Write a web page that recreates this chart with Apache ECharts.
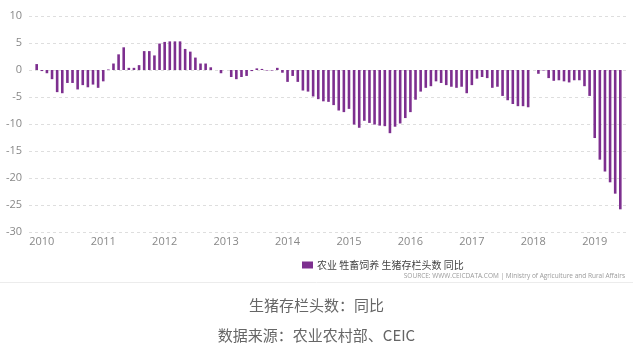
<!DOCTYPE html>
<html><head><meta charset="utf-8">
<script src="https://cdn.jsdelivr.net/npm/echarts@6/dist/echarts.min.js"></script>
<style>html,body{margin:0;padding:0;background:#fff}#c{width:633px;height:360px}</style>
</head><body><div id="c"></div>
<script>
// Year-on-year change (%) of live hog inventory, monthly
const y2009 = [null, 1.1];                      // Nov, Dec
const y2010 = [-0.2, -0.6, -1.7, -4.1, -4.3, -2.4, -2.4, -3.6, -2.8, -3.2, -2.7, -3.3];
const y2011 = [-2.1, 0.1, 1.2, 2.9, 4.2, 0.4, 0.4, 0.9, 3.5, 3.5, 2.7, 4.9];
const y2012 = [5.2, 5.3, 5.3, 5.3, 3.9, 3.4, 2.3, 1.2, 1.2, 0.5, null, -0.6];
const y2013 = [null, -1.3, -1.7, -1.3, -1.1, -0.2, 0.3, 0.2, -0.1, -0.1, 0.4, -0.5];
const y2014 = [-2.2, -1.1, -2.2, -3.8, -4.0, -4.9, -5.4, -5.8, -5.9, -6.5, -7.5, -7.8];
const y2015 = [-7.2, -10.1, -10.7, -9.4, -9.8, -10.1, -10.3, -10.4, -11.7, -10.5, -9.9, -8.9];
const y2016 = [-7.8, -5.5, -4.0, -3.3, -3.0, -2.1, -2.4, -2.8, -3.1, -3.3, -3.1, -4.3];
const y2017 = [-2.8, -1.6, -1.3, -1.5, -3.3, -3.1, -4.8, -5.6, -6.3, -6.7, -6.7, -6.9];
const y2018 = [null, -0.7, -0.1, -1.5, -2.0, -1.9, -2.1, -2.3, -1.9, -1.9, -3.0, -4.8];
const y2019 = [-12.6, -16.6, -18.8, -20.8, -22.9, -25.8, null]; // Jan..Jul
const yearBlocks = [[2009, 11, y2009], [2010, 1, y2010], [2011, 1, y2011], [2012, 1, y2012],
  [2013, 1, y2013], [2014, 1, y2014], [2015, 1, y2015], [2016, 1, y2016], [2017, 1, y2017],
  [2018, 1, y2018], [2019, 1, y2019]];
const seriesName = '农业 牲畜饲养 生猪存栏头数 同比';
const yTicks = { min: -30, max: 10, step: 5 };
const sourceText = 'SOURCE: WWW.CEICDATA.COM | Ministry of Agriculture and Rural Affairs';
const caption1 = '生猪存栏头数：同比';
const caption2 = '数据来源：农业农村部、CEIC';

const categories = [];
const values = [];
yearBlocks.forEach(([yr, m0, arr]) => {
  arr.forEach((v, k) => {
    const m = m0 + k;
    categories.push(yr + '-' + (m < 10 ? '0' + m : m));
    values.push(v);
  });
});

const chart = echarts.init(document.getElementById('c'), null, { renderer: 'canvas' });
const fontLatin = "'Open Sans', 'Noto Sans', sans-serif";
const fontCJK = "'Noto Sans CJK SC', 'Noto Sans', sans-serif";
chart.setOption({
  backgroundColor: '#fff',
  animation: false,
  grid: { left: 29, right: 5, top: 16, bottom: 128 },
  legend: {
    data: [seriesName], left: 297, top: 255, icon: 'rect', itemWidth: 11, itemHeight: 7,
    itemGap: 4,
    textStyle: { fontSize: 10, color: '#444', fontFamily: fontCJK, padding: [0, 0, 0, -1] }
  },
  xAxis: {
    type: 'category', data: categories, boundaryGap: true,
    axisLine: { show: false }, axisTick: { show: false }, splitLine: { show: false },
    axisLabel: {
      interval: (i, v) => v.slice(5) === '01',
      formatter: v => v.slice(0, 4),
      color: '#888', fontSize: 11, fontFamily: fontLatin, margin: 4
    }
  },
  yAxis: {
    type: 'value', min: yTicks.min, max: yTicks.max, interval: yTicks.step,
    axisLine: { show: false }, axisTick: { show: false },
    axisLabel: { color: '#888', fontSize: 11, fontFamily: fontLatin, margin: 7 },
    splitLine: { lineStyle: { color: '#dedede', type: [3, 3], width: 1 } }
  },
  series: [{
    name: seriesName, type: 'bar', data: values, barWidth: 2.6,
    itemStyle: { color: '#7d2f8f' }
  }],
  graphic: [
    { type: 'text', right: 8, top: 273,
      style: { text: sourceText, fill: '#9a9a9a', font: "6.5px " + fontLatin } },
    { type: 'line', shape: { x1: 0, y1: 282.5, x2: 633, y2: 282.5 },
      style: { stroke: '#ececec', lineWidth: 1 } },
    { type: 'text', left: 'center', top: 298,
      style: { text: caption1, fill: '#666', font: "15px " + fontCJK } },
    { type: 'text', left: 'center', top: 328,
      style: { text: caption2, fill: '#666', font: "15px " + fontCJK } }
  ]
});
</script>
</body></html>
